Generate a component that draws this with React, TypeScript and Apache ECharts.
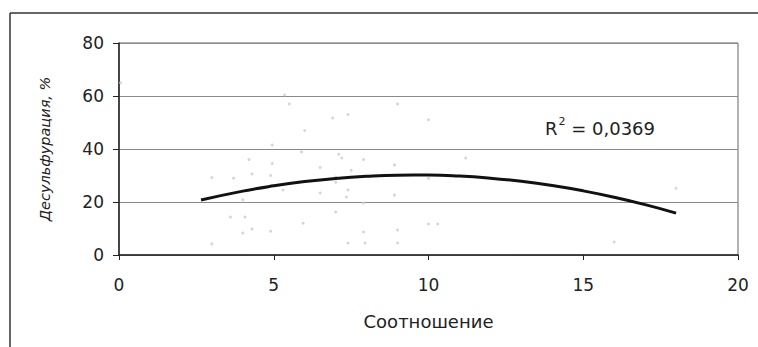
import React, { useEffect, useRef } from "react";
import * as echarts from "echarts";

// Observed samples: ratio vs desulfurization
const pointX = [0.05, 5.35, 5.5, 7.4, 6.9, 6.0, 4.95, 5.9, 7.1, 4.2, 4.95, 6.5, 3.0, 3.7, 4.3, 4.0, 3.6, 4.07, 4.3, 4.0, 3.0, 9.0, 7.2, 7.9, 4.9, 7.5, 7.0, 7.0, 5.3, 6.5, 7.4, 7.35, 7.9, 8.9, 8.9, 7.0, 5.95, 4.9, 7.9, 9.0, 7.4, 7.95, 9.0, 10.0, 11.2, 10.0, 10.0, 10.3, 18.0, 16.0];
const pointY = [65, 60.4, 57, 53, 51.7, 47, 41.5, 38.9, 38, 36, 34.5, 33, 29.2, 29, 30.6, 20.8, 14.3, 14.3, 9.8, 8.3, 4.2, 57, 36.6, 36, 30, 32, 29.4, 27.5, 24.5, 23.4, 24.5, 21.9, 19.6, 34, 22.6, 16.2, 12, 9, 8.7, 9.4, 4.5, 4.5, 4.5, 51, 36.6, 29, 11.7, 11.7, 25.2, 4.9];

// Second-order trend curve, read along its length
const trendX = [2.65, 4, 5, 6, 7, 8, 9, 10, 11, 12, 13, 14, 15, 16, 17, 18];
const trendY = [20.75, 24.1, 26.1, 27.7, 28.9, 29.7, 30.1, 30.15, 29.8, 29.0, 27.8, 26.2, 24.2, 21.8, 19.0, 15.8];

const xTicks = [0, 5, 10, 15, 20];
const yTicks = [0, 20, 40, 60, 80];

const rSquared = "0,0369";

export default function App() {
  const ref = useRef<HTMLDivElement>(null);

  useEffect(() => {
    if (!ref.current) return;
    const chart = echarts.init(ref.current, null, { renderer: "svg" });
    const font = "DejaVu Sans, Verdana, sans-serif";
    chart.setOption({
      animation: false,
      backgroundColor: "#ffffff",
      grid: { left: 119, right: 20, top: 43, bottom: 92, containLabel: false, show: true, borderColor: "#666", borderWidth: 1 },
      xAxis: {
        type: "value",
        min: xTicks[0],
        max: xTicks[xTicks.length - 1],
        interval: 5,
        name: "Соотношение",
        nameLocation: "middle",
        nameGap: 57,
        nameTextStyle: { fontFamily: font, fontSize: 18, color: "#222" },
        axisLine: { show: true, onZero: false, lineStyle: { color: "#222", width: 1.5 } },
        axisTick: { show: true, inside: false, length: 5, lineStyle: { color: "#222" } },
        axisLabel: { fontFamily: font, fontSize: 17, color: "#222", margin: 21 },
        splitLine: { show: false },
      },
      yAxis: {
        type: "value",
        min: yTicks[0],
        max: yTicks[yTicks.length - 1],
        interval: 20,
        name: "Десульфурация, %",
        nameLocation: "middle",
        nameGap: 67,
        nameRotate: 90,
        nameTextStyle: { fontFamily: font, fontSize: 14.5, color: "#222", fontStyle: "italic" },
        axisLine: { show: true, lineStyle: { color: "#222", width: 1.5 } },
        axisTick: { show: true, inside: false, length: 6, lineStyle: { color: "#222" } },
        axisLabel: { fontFamily: font, fontSize: 17, color: "#222", margin: 15 },
        splitLine: { show: true, lineStyle: { color: "#8a8a8a", width: 1 } },
      },
      series: [
        {
          type: "scatter",
          data: pointX.map((x, i) => [x, pointY[i]]),
          symbol: "circle",
          symbolSize: 3,
          itemStyle: { color: "#cccccc" },
          silent: true,
        },
        {
          type: "line",
          data: trendX.map((x, i) => [x, trendY[i]]),
          smooth: true,
          showSymbol: false,
          lineStyle: { color: "#111", width: 3 },
          silent: true,
        },
      ],
      graphic: [
        { type: "line", shape: { x1: 10, y1: 13, x2: 758, y2: 13 }, style: { stroke: "#333", lineWidth: 1.5 } },
        { type: "line", shape: { x1: 10, y1: 13, x2: 10, y2: 347 }, style: { stroke: "#333", lineWidth: 1.5 } },
        {
          type: "text",
          left: 545,
          top: 113,
          style: {
            text: "{r|R}{s|2}{r| = " + rSquared + "}",
            rich: {
              r: { fontFamily: font, fontSize: 18, fill: "#222", verticalAlign: "bottom", lineHeight: 24 },
              s: { fontFamily: font, fontSize: 11, fill: "#222", verticalAlign: "top", lineHeight: 24, padding: [3, 0, 0, 1] },
            },
          },
        },
      ],
    });
    return () => chart.dispose();
  }, []);

  return (
    <div
      ref={ref}
      style={{ position: "fixed", left: 0, top: 0, width: 758, height: 347 }}
    />
  );
}
